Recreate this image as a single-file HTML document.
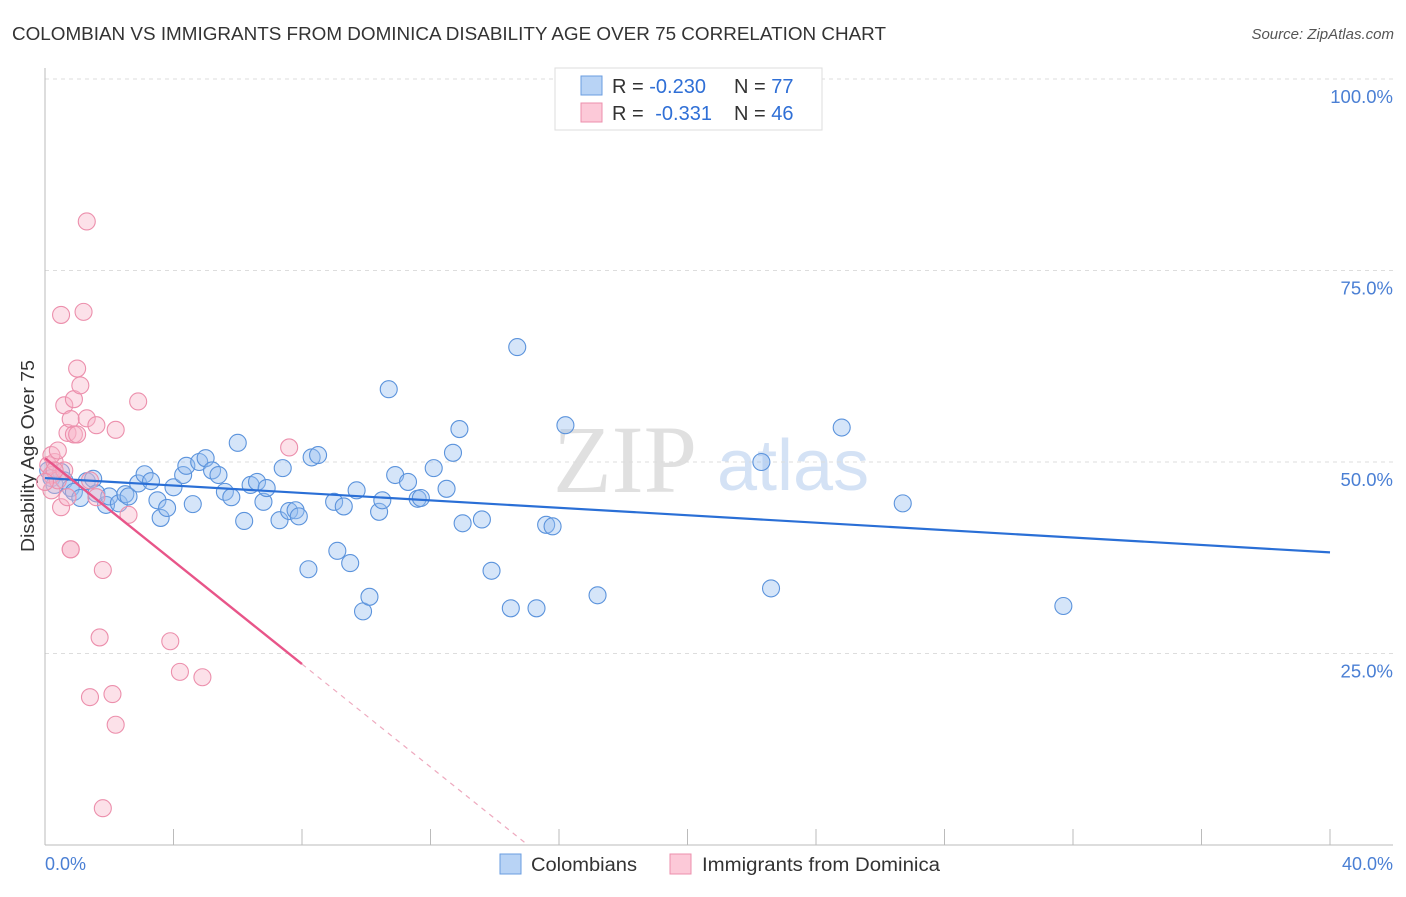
<!DOCTYPE html>
<html><head><meta charset="utf-8"><style>
body{margin:0;background:#fff;font-family:"Liberation Sans",sans-serif}
</style></head><body>
<svg width="1406" height="892" xmlns="http://www.w3.org/2000/svg" font-family="Liberation Sans, sans-serif">
<text x="12" y="40" font-size="18.5" fill="#333" textLength="874" lengthAdjust="spacingAndGlyphs">COLOMBIAN VS IMMIGRANTS FROM DOMINICA DISABILITY AGE OVER 75 CORRELATION CHART</text>
<text x="1394" y="39" font-size="15" fill="#555" font-style="italic" text-anchor="end">Source: ZipAtlas.com</text>
<g>
<text x="553" y="492" font-size="96" font-family="Liberation Serif, serif" fill="#e0e0e0">ZIP</text>
<text x="717" y="490" font-size="72" fill="#d4e2f5">atlas</text>
</g>
<g id="grid"></g>
<line x1="45" y1="68" x2="45" y2="845" stroke="#bbb"/>
<line x1="45" y1="845" x2="1393" y2="845" stroke="#bbb"/>
<g id="xticks"></g>
<text transform="translate(34,456) rotate(-90)" font-size="18" fill="#333" text-anchor="middle" textLength="192" lengthAdjust="spacingAndGlyphs">Disability Age Over 75</text>
<text x="45" y="870" font-size="18" fill="#4a7fd4">0.0%</text>
<text x="1393" y="870" font-size="18" fill="#4a7fd4" text-anchor="end">40.0%</text>
<g id="pts"></g>
<g id="lines"></g>
<g>
<rect x="555" y="68" width="267" height="62" fill="#fff" stroke="#ddd"/>
<rect x="581" y="76" width="21" height="19" fill="#b8d3f5" stroke="#6a9de0"/>
<rect x="581" y="103" width="21" height="19" fill="#fcc9d8" stroke="#ec8fac"/>
<text x="612" y="93" font-size="20" fill="#333">R = <tspan fill="#2f6fd6">-0.230</tspan></text>
<text x="734" y="93" font-size="20" fill="#333">N = <tspan fill="#2f6fd6">77</tspan></text>
<text x="612" y="120" font-size="20" fill="#333">R = <tspan fill="#2f6fd6" dx="6">-0.331</tspan></text>
<text x="734" y="120" font-size="20" fill="#333">N = <tspan fill="#2f6fd6">46</tspan></text>
</g>
<g>
<rect x="500" y="854" width="21" height="20" fill="#b8d3f5" stroke="#6a9de0"/>
<text x="531" y="871" font-size="19" fill="#333" textLength="106" lengthAdjust="spacingAndGlyphs">Colombians</text>
<rect x="670" y="854" width="21" height="20" fill="#fcc9d8" stroke="#ec8fac"/>
<text x="702" y="871" font-size="19" fill="#333" textLength="238" lengthAdjust="spacingAndGlyphs">Immigrants from Dominica</text>
</g>
</svg>
<script>
const blueX=[0.1,0.2,0.3,0.5,0.6,0.8,0.9,1.1,1.3,1.5,1.6,1.9,2.0,2.3,2.5,2.6,2.9,3.1,3.3,3.5,3.6,3.8,4.0,4.3,4.4,4.6,4.8,5.0,5.2,5.4,5.6,5.8,6.0,6.2,6.4,6.6,6.8,6.9,7.3,7.4,7.6,7.8,7.9,8.2,8.3,8.5,9.0,9.1,9.3,9.5,9.7,9.9,10.1,10.4,10.5,10.7,10.9,11.3,11.6,11.7,12.1,12.5,12.7,12.9,13.0,13.6,13.9,14.5,14.7,15.3,15.6,15.8,16.2,17.2,22.3,22.6,24.8,26.7,31.7];
const blueY=[48.9,47.9,47.0,48.7,47.6,46.6,46.1,45.3,47.5,47.8,45.9,44.4,45.5,44.6,45.8,45.5,47.2,48.4,47.5,45.0,42.7,44.0,46.7,48.3,49.5,44.5,50.0,50.5,48.9,48.3,46.1,45.4,52.5,42.3,47.0,47.4,44.8,46.6,42.4,49.2,43.6,43.7,42.9,36.0,50.6,50.9,44.8,38.4,44.2,36.8,46.3,30.5,32.4,43.5,45.0,59.5,48.3,47.4,45.2,45.3,49.2,46.5,51.2,54.3,42.0,42.5,35.8,30.9,65.0,30.9,41.8,41.6,54.8,32.6,50.0,33.5,54.5,44.6,31.2];
const pinkX=[0.1,0.2,0.2,0.3,0.4,0.5,0.5,0.6,0.6,0.7,0.7,0.8,0.8,0.8,0.9,0.9,1.0,1.0,1.1,1.2,1.3,1.3,1.4,1.4,1.6,1.6,1.7,1.8,1.8,2.1,2.2,2.2,2.6,2.9,3.9,4.2,4.9,7.6,0.2,0.3,0.4,0.0];
const pinkY=[49.6,48.3,46.3,50.0,47.6,44.1,69.2,48.9,57.4,53.8,45.4,38.6,55.6,38.6,53.6,58.2,62.2,53.6,60.0,69.6,55.7,81.4,19.3,47.6,45.4,54.8,27.1,35.9,4.8,19.7,54.2,15.7,43.1,57.9,26.6,22.6,21.9,51.9,50.9,48.9,51.5,47.4];
const blueTrend=[47.9,-0.2425]; // intercept, slope
const pinkTrend=[50.5,-3.36];
const yTicks=[25,50,75,100];
const xTickVals=[0,4,8,12,16,20,24,28,32,36,40];
const X=v=>45+v/40*1285, Y=v=>845-v/100*766;
const NS='http://www.w3.org/2000/svg';
function mk(t,a,p){const e=document.createElementNS(NS,t);for(const k in a)e.setAttribute(k,a[k]);p.appendChild(e);return e;}
const grid=document.getElementById('grid');
yTicks.forEach(t=>{
 const l=mk('line',{x1:45,x2:1393,y1:Y(t),y2:Y(t),stroke:'#ddd','stroke-dasharray':'4,4'},grid);
 
 
 const tx=mk('text',{x:1393,y:Y(t)+24,'font-size':18.5,fill:'#4a7fd4','text-anchor':'end'},grid);
 tx.textContent=t.toFixed(1)+'%';
 
 
});
const xt=document.getElementById('xticks');
xTickVals.forEach(t=>{
 const l=mk('line',{x1:X(t),x2:X(t),y1:829,y2:845,stroke:'#bbb'},xt);
 
 
});
const pts=document.getElementById('pts');
blueX.forEach((x,i)=>{
 const c=mk('circle',{cx:X(x),cy:Y(blueY[i]),r:8.5,fill:'rgba(150,190,240,0.4)',stroke:'#5b93dc','stroke-width':1.1},pts);
 
 
});
pinkX.forEach((x,i)=>{
 const c=mk('circle',{cx:X(x),cy:Y(pinkY[i]),r:8.5,fill:'rgba(248,180,200,0.4)',stroke:'#ec8fac','stroke-width':1.1},pts);
 
 
});
const ln=document.getElementById('lines');
let b=mk('line',{x1:X(0),y1:Y(blueTrend[0]),x2:X(40),y2:Y(blueTrend[0]+40*blueTrend[1]),stroke:'#2a6fd6','stroke-width':2.2},ln);


let p=mk('line',{x1:X(0),y1:Y(pinkTrend[0]),x2:X(8),y2:Y(pinkTrend[0]+8*pinkTrend[1]),stroke:'#e85589','stroke-width':2.4},ln);


const xe=-pinkTrend[0]/pinkTrend[1];
let pd=mk('line',{x1:X(8),y1:Y(pinkTrend[0]+8*pinkTrend[1]),x2:X(xe),y2:Y(0),stroke:'#eeaabf','stroke-width':1.2,'stroke-dasharray':'5,5'},ln);


</script>
</body></html>
